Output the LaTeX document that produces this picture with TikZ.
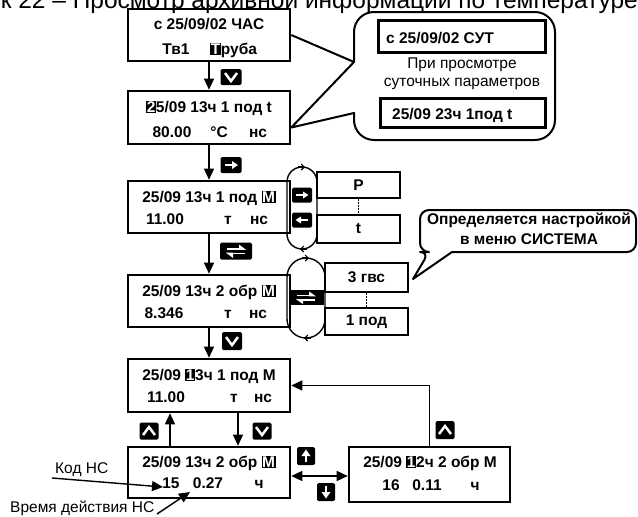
\documentclass[tikz,border=0pt]{standalone}
\usepackage{fontspec}
\setmainfont{Liberation Sans}
\usetikzlibrary{arrows.meta}
\newcommand\hl[1]{{\setlength{\fboxsep}{0.6pt}\colorbox{black}{\textcolor{white}{#1}}}}
\begin{document}
\begin{tikzpicture}[x=1pt,y=-1pt,
  box/.style={draw, line width=2.6pt, inner sep=0pt, minimum width=162pt, minimum height=52pt},
  sub/.style={draw, line width=2pt, inner sep=0pt, minimum width=83pt, font=\fontsize{15.5}{17}\selectfont\bfseries},
  inbox/.style={draw, line width=3pt, inner sep=0pt},
  txt/.style={font=\fontsize{15.5}{17}\selectfont\bfseries, inner sep=0pt, anchor=base},
  lbl/.style={font=\fontsize{15.5}{17}\selectfont, inner sep=0pt, anchor=base},
  keyb/.style={fill=black, rounded corners=1.5pt, inner sep=0pt, minimum width=21pt, minimum height=16pt},
  arr/.style={line width=1.4pt, -{Triangle[length=11pt,width=10pt]}},
  arrtwo/.style={line width=1.4pt, {Triangle[length=11pt,width=10pt]}-{Triangle[length=11pt,width=10pt]}},
  wsym/.style={white, line width=2.5pt},
  wthin/.style={white, line width=1.6pt},
  bub/.style={line width=2pt, line join=round},
  barb/.style={line width=1.1pt, -{Straight Barb[length=3pt,width=6pt]}},
  dots/.style={line width=1.8pt, dash pattern=on 1.5pt off 1.5pt},
]
\useasboundingbox (0,0) rectangle (638,517);
\clip (0,0) rectangle (638,517);

% title (cut at the top, as in the source)
\node[lbl, font=\fontsize{24.5}{26}\selectfont, anchor=base east] (title) at (638,8.5) {Рисунок 22 – Просмотр архивной информации по температуре};

% main boxes
\node[box] (B1) at (209,35) {};
\node[box, minimum height=53pt] (B2) at (209,117.5) {};
\node[box] (B3) at (209,207) {};
\node[box] (B4) at (209,301) {};
\node[box, minimum height=53pt] (B5) at (209,385.5) {};
\node[box, minimum height=51pt] (B6) at (209,472.5) {};
\node[box, minimum width=161pt, minimum height=55pt] (B7) at (429.5,474.5) {};

% texts
\node[txt] (b1a) at (209,29) {с 25/09/02 ЧАС};
\node[txt] (b1b) at (176,54) {Тв1};
\node[txt, anchor=base west] (b1c) at (210,54) {\hl{Т}руба};

\node[txt] (b2a) at (209,112) {\hl{2}5/09 13ч 1 под t};
\node[txt] (b2b) at (172,137) {80.00};
\node[txt] (b2c) at (219,137) {°C};
\node[txt] (b2d) at (258,137) {нс};

\node[txt] (b3a) at (209,202) {25/09 13ч 1 под \hl{М}};
\node[txt] (b3b) at (165,224) {11.00};
\node[txt] (b3c) at (228,224) {т};
\node[txt] (b3d) at (259,224) {нс};

\node[txt] (b4a) at (209,296) {25/09 13ч 2 обр \hl{М}};
\node[txt] (b4b) at (164,318) {8.346};
\node[txt] (b4c) at (228,318) {т};
\node[txt] (b4d) at (258,318) {нс};

\node[txt] (b5a) at (209,380) {25/09 \hl{1}3ч 1 под М};
\node[txt] (b5b) at (166,402) {11.00};
\node[txt] (b5c) at (234,402) {т};
\node[txt] (b5d) at (263,402) {нс};

\node[txt] (b6a) at (209,467) {25/09 13ч 2 обр \hl{М}};
\node[txt] (b6b) at (171,488) {15};
\node[txt] (b6c) at (208,488) {0.27};
\node[txt] (b6d) at (259,488) {ч};

\node[txt] (b7a) at (430,467) {25/09 \hl{1}2ч 2 обр М};
\node[txt] (b7b) at (391,490) {16};
\node[txt] (b7c) at (427,490) {0.11};
\node[txt] (b7d) at (475,490) {ч};

% connectors
\draw[arr] (B1.south) -- (B2.north);
\draw[arr] (B2.south) -- (B3.north);
\draw[arr] (B3.south) -- (B4.north);
\draw[arr] (B4.south) -- (B5.north);
\draw[arr] ([xshift=-39pt]B6.north) -- ([xshift=-39pt]B5.south);
\draw[arr] ([xshift=29pt]B5.south) -- ([xshift=29pt]B6.north);
\coordinate (m6) at ([yshift=-3.5pt]B6.east);
\draw[arrtwo] (m6) -- (m6 -| B7.west);
\draw[arr] (B7.north) |- (B5.east);

% keys
\node[keyb] (k1) at (231,77) {};
\draw[wsym] ([shift={(-6,-4)}]k1.center) -- ([shift={(0,4)}]k1.center) -- ([shift={(6,-4)}]k1.center);
\node[keyb] (k2) at (231,165) {};
\draw[wthin] ([shift={(-6,0)}]k2.center) -- ([shift={(2,0)}]k2.center);
\fill[white] ([shift={(1,-4)}]k2.center) -- ([shift={(7,0)}]k2.center) -- ([shift={(1,4)}]k2.center) -- cycle;
\node[keyb, minimum width=32pt, minimum height=17pt] (k3) at (236,251) {};
\draw[wthin] ([shift={(-9,-2)}]k3.center) -- ([shift={(4,-2)}]k3.center);
\fill[white] ([shift={(3,-1.2)}]k3.center) -- ([shift={(10,-1.2)}]k3.center) -- ([shift={(3,-6.5)}]k3.center) -- cycle;
\draw[wthin] ([shift={(9,2.5)}]k3.center) -- ([shift={(-4,2.5)}]k3.center);
\fill[white] ([shift={(-3,1.7)}]k3.center) -- ([shift={(-10,1.7)}]k3.center) -- ([shift={(-3,7)}]k3.center) -- cycle;
\node[keyb, minimum width=20pt, minimum height=18pt] (k4) at (232,341) {};
\draw[wsym] ([shift={(-6,-4)}]k4.center) -- ([shift={(0,4)}]k4.center) -- ([shift={(6,-4)}]k4.center);
\node[keyb, minimum width=19pt, minimum height=17pt] (k5) at (149,431) {};
\draw[wsym] ([shift={(-6,4)}]k5.center) -- ([shift={(0,-4)}]k5.center) -- ([shift={(6,4)}]k5.center);
\node[keyb, minimum width=19pt, minimum height=17pt] (k6) at (262,431) {};
\draw[wsym] ([shift={(-6,-4)}]k6.center) -- ([shift={(0,4)}]k6.center) -- ([shift={(6,-4)}]k6.center);
\node[keyb, minimum width=18pt, minimum height=18pt] (k7) at (306,456) {};
\draw[white, line width=2.6pt] ([shift={(0,6)}]k7.center) -- ([shift={(0,-1)}]k7.center);
\fill[white] ([shift={(-4.5,0)}]k7.center) -- ([shift={(0,-6.5)}]k7.center) -- ([shift={(4.5,0)}]k7.center) -- cycle;
\node[keyb, minimum width=18pt, minimum height=18pt] (k8) at (326,492) {};
\draw[white, line width=2.6pt] ([shift={(0,-6)}]k8.center) -- ([shift={(0,1)}]k8.center);
\fill[white] ([shift={(-4.5,0)}]k8.center) -- ([shift={(0,6.5)}]k8.center) -- ([shift={(4.5,0)}]k8.center) -- cycle;
\node[keyb, minimum width=19pt, minimum height=18pt] (k9) at (445,430) {};
\draw[wsym] ([shift={(-6,4)}]k9.center) -- ([shift={(0,-4)}]k9.center) -- ([shift={(6,4)}]k9.center);

% capsule 1 with P / t
\draw[line width=1.4pt, rounded corners=15pt] (287,167) rectangle (317,249);
\draw[barb] (298,167) -- (305,167);
\draw[barb] (307,249) -- (300,249);
\node[keyb, minimum width=20pt, minimum height=15pt] (k10) at (302,195) {};
\draw[wthin] ([shift={(-6,0)}]k10.center) -- ([shift={(2,0)}]k10.center);
\fill[white] ([shift={(1,-3.5)}]k10.center) -- ([shift={(6.5,0)}]k10.center) -- ([shift={(1,3.5)}]k10.center) -- cycle;
\node[keyb, minimum width=20pt, minimum height=15pt] (k11) at (302,220) {};
\draw[wthin] ([shift={(6,0)}]k11.center) -- ([shift={(-2,0)}]k11.center);
\fill[white] ([shift={(-1,-3.5)}]k11.center) -- ([shift={(-6.5,0)}]k11.center) -- ([shift={(-1,3.5)}]k11.center) -- cycle;
\node[sub, minimum height=26pt] (P) at (358.5,185) {P};
\node[sub, minimum height=28pt] (T) at (358.5,229) {t};
\draw[dots] (P.south) -- (T.north);

% capsule 2 with 3 гвс / 1 под
\draw[line width=1.4pt, rounded corners=19pt] (287,258) rectangle (325,338);
\draw[barb] (302,258) -- (309,258);
\draw[barb] (311,338) -- (304,338);
\node[fill=black, inner sep=0pt, minimum width=35pt, minimum height=15pt] (k12) at (306,297.5) {};
\draw[wthin] ([shift={(-9,-2)}]k12.center) -- ([shift={(4,-2)}]k12.center);
\fill[white] ([shift={(3,-1.2)}]k12.center) -- ([shift={(10,-1.2)}]k12.center) -- ([shift={(3,-6)}]k12.center) -- cycle;
\draw[wthin] ([shift={(9,2.5)}]k12.center) -- ([shift={(-4,2.5)}]k12.center);
\fill[white] ([shift={(-3,1.7)}]k12.center) -- ([shift={(-10,1.7)}]k12.center) -- ([shift={(-3,6.5)}]k12.center) -- cycle;
\node[sub, minimum height=29pt] (G) at (366.5,277.5) {3 гвс};
\node[sub, minimum height=27pt] (Q) at (366.5,321.5) {1 под};
\draw[dots] (G.south) -- (Q.north);

% top bubble
\coordinate (tb2) at ([yshift=-10pt]B2.east);
\draw[bub] (B1.east) -- (354,62) -- (tb2) -- (354,113) [rounded corners=20pt] -- (354,140) -- (555,140) -- (555,12) -- (354,12) [sharp corners] -- (354,62);
\node[inbox, minimum width=167pt, minimum height=32pt] (S1) at (461.5,36) {};
\node[txt, anchor=base west] (s1t) at (386,43) {с 25/09/02 СУТ};
\node[lbl, font=\fontsize{15.5}{17}\selectfont] (n1) at (462,68) {При просмотре};
\node[lbl, font=\fontsize{15.5}{17}\selectfont] (n2) at (462,86) {суточных параметров};
\node[inbox, minimum width=165pt, minimum height=29pt] (S2) at (462.5,112.5) {};
\node[txt, anchor=base west] (s2t) at (392,119) {25/09 23ч 1под t};

% right bubble
\draw[bub] (413,279) -- (452,252) [rounded corners=9pt] -- (636,252) -- (636,210) -- (420,210) -- (420,252) -- (429,252) [sharp corners] -- cycle;
\node[txt] (o1) at (529,224) {Определяется настройкой};
\node[txt] (o2) at (529,244) {в меню СИСТЕМА};

% labels
\node[lbl, anchor=base west] (kod) at (55,473) {Код НС};
\coordinate (kodA) at (52,478);
\coordinate (kodB) at (163,487);
\draw[arr] (kodA) -- (kodB);
\node[lbl, anchor=base west] (vrem) at (10,512) {Время действия НС};
\coordinate (vrA) at (157,514);
\coordinate (vrB) at (190,492);
\draw[arr] (vrA) -- (vrB);
\end{tikzpicture}
\end{document}
